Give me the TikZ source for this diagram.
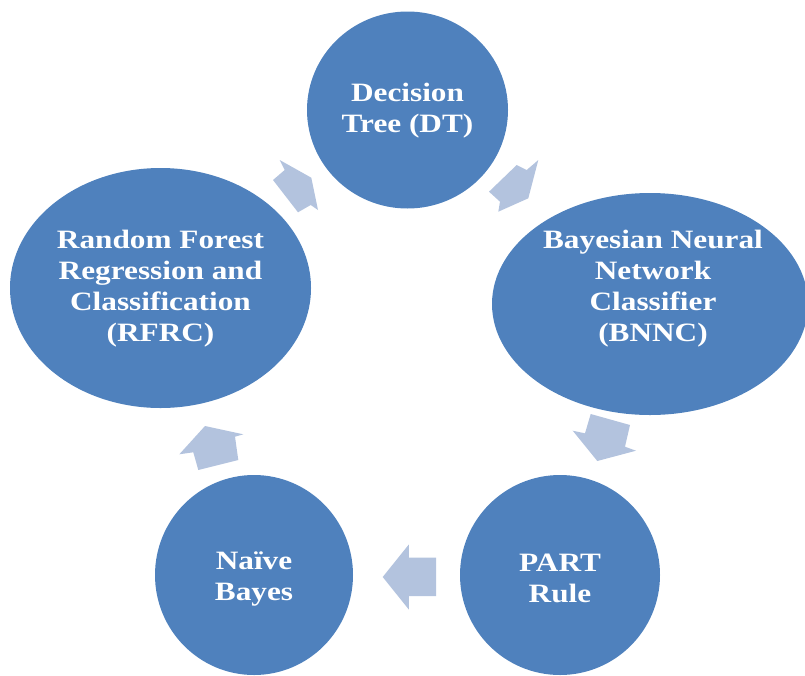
\documentclass[tikz,border=0pt]{standalone}
\usepackage{fontspec}
\setmainfont{Liberation Serif}[FakeStretch=1.18]
\usetikzlibrary{shapes.geometric}
\definecolor{cyclefill}{HTML}{4F81BD}
\definecolor{arrowfill}{HTML}{B3C3DE}
\tikzset{
  stage/.style={ellipse, fill=cyclefill, inner sep=0pt},
  stagetext/.style={text=white, inner sep=0pt,
    font=\fontsize{26.5}{31}\selectfont\bfseries, align=center},
  blockarrow/.style={fill=arrowfill, draw=none}
}
\begin{document}
\begin{tikzpicture}[x=1pt,y=-1pt]
\useasboundingbox (0,0) rectangle (805,675);
\clip (0,0) rectangle (805,675);
% stages
\node[stage, minimum width=201pt, minimum height=197pt] (dt) at (407.5,110) {};
\node[stagetext] (dt-t) at (407.5,111) {Decision\\Tree (DT)};
\node[stage, minimum width=316pt, minimum height=222pt] (bnnc) at (650,304) {};
\node[stagetext] (bnnc-t) at (653,289) {Bayesian Neural\\Network\\Classifier\\(BNNC)};
\node[stage, minimum width=301pt, minimum height=240pt] (rfrc) at (160.5,288) {};
\node[stagetext] (rfrc-t) at (160.5,289) {Random Forest\\Regression and\\Classification\\(RFRC)};
\node[stage, minimum width=198pt, minimum height=200pt] (nb) at (254,575) {};
\node[stagetext] (nb-t) at (254,579) {Na\"ive\\Bayes};
\node[stage, minimum width=200pt, minimum height=200pt] (part) at (560,575) {};
\node[stagetext] (part-t) at (560,578) {PART\\Rule};
% block arrows
\fill[blockarrow] (279.7,160) -- (311.3,177.7) -- (318,210) -- (310.7,205) -- (298,212.3) -- (273,180) -- (284.7,170) -- cycle;
\fill[blockarrow] (516.7,165) -- (526.7,170) -- (538.3,160) -- (528.3,198.3) -- (498.3,211.7) -- (500,201.7) -- (489,191.7) -- cycle;
\fill[blockarrow] (590.7,414) -- (630,425) -- (625,446.7) -- (636,450.7) -- (597.3,461) -- (572.7,430.7) -- (585,433.3) -- cycle;
\fill[blockarrow] (382.7,577) -- (408.8,544.5) -- (408.8,557.5) -- (436,557.5) -- (436,596) -- (408.8,596) -- (408.8,609.5) -- cycle;
\fill[blockarrow] (179.3,454.3) -- (205,426) -- (243.3,434.3) -- (235,436.7) -- (238.3,460) -- (198.3,470) -- (193.3,452.3) -- cycle;
\end{tikzpicture}
\end{document}
